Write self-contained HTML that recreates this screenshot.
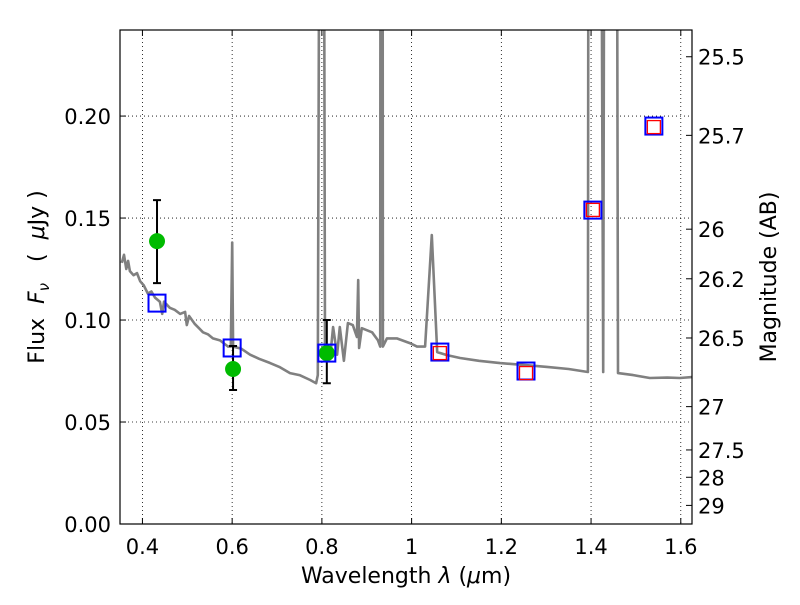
<!DOCTYPE html>
<html><head><meta charset="utf-8"><style>
body{margin:0;background:#fff}
svg text{font-family:"DejaVu Sans","Liberation Sans",sans-serif;fill:#000}
</style></head><body>
<svg id="chart" width="800" height="600" xmlns="http://www.w3.org/2000/svg">
<defs><clipPath id="pc"><rect x="120" y="30" width="572" height="494"/></clipPath></defs>
<rect width="800" height="600" fill="#fff"/>
<g id="grid"></g>
<g id="spec" clip-path="url(#pc)"></g>
<g id="marks"></g>
<rect x="120" y="30" width="572" height="494" fill="none" stroke="#000" stroke-width="1.2"/>
<g id="axes"></g>
<text x="406" y="583" font-size="22" text-anchor="middle">Wavelength  <tspan font-style="italic">λ</tspan> (<tspan font-style="italic">μ</tspan>m)</text>
<text transform="translate(44,277) rotate(-90)" font-size="22" text-anchor="middle" xml:space="preserve">Flux  <tspan font-style="italic">F</tspan><tspan font-style="italic" font-size="15" dy="5">ν</tspan><tspan dy="-5">   (  </tspan><tspan font-style="italic">μ</tspan>Jy )</text>
<text transform="translate(776,277) rotate(-90)" font-size="22" text-anchor="middle">Magnitude (AB)</text>
</svg>
<script>
const xTicks=[0.4,0.6,0.8,1.0,1.2,1.4,1.6];
const xTickLabels=["0.4","0.6","0.8","1","1.2","1.4","1.6"];
const yTicks=[0,0.05,0.10,0.15,0.20];
const yTickLabels=["0.00","0.05","0.10","0.15","0.20"];
const magTicks=[25.5,25.7,26,26.2,26.5,27,27.5,28,29];
const magLabels=["25.5","25.7","26","26.2","26.5","27","27.5","28","29"];
const specLam=[0.354,0.359,0.364,0.368,0.372,0.380,0.388,0.395,0.403,0.412,0.420,0.428,0.439,0.444,0.448,0.461,0.472,0.484,0.495,0.499,0.504,0.517,0.526,0.535,0.546,0.557,0.573,0.591,0.597,0.600,0.602,0.620,0.640,0.660,0.684,0.705,0.729,0.750,0.774,0.787,0.791,0.797,0.803,0.807,0.818,0.825,0.834,0.840,0.849,0.858,0.869,0.878,0.881,0.883,0.889,0.912,0.925,0.930,0.931,0.935,0.936,0.945,0.967,0.996,1.012,1.030,1.045,1.057,1.079,1.108,1.150,1.197,1.250,1.302,1.350,1.393,1.395,1.420,1.427,1.431,1.456,1.460,1.494,1.531,1.570,1.598,1.625];
const specFlux=[0.128,0.132,0.125,0.129,0.124,0.122,0.123,0.119,0.117,0.113,0.114,0.111,0.109,0.103,0.109,0.106,0.105,0.103,0.104,0.0975,0.102,0.098,0.096,0.094,0.093,0.091,0.090,0.087,0.087,0.138,0.087,0.086,0.083,0.081,0.079,0.077,0.074,0.073,0.0706,0.069,0.073,0.5,0.5,0.085,0.081,0.0966,0.083,0.0966,0.080,0.0985,0.0975,0.0917,0.1196,0.0863,0.096,0.094,0.090,0.087,0.5,0.5,0.087,0.091,0.091,0.0887,0.087,0.087,0.1417,0.0843,0.0828,0.0814,0.080,0.0789,0.078,0.077,0.076,0.0745,0.5,0.5,0.0745,0.5,0.5,0.074,0.073,0.0716,0.0718,0.0716,0.072];
const modelLam=[0.4325,0.600,0.811,1.063,1.255,1.404,1.540];
const modelFlux=[0.1083,0.0863,0.0838,0.0843,0.075,0.1539,0.1951];
const irLam=[1.063,1.255,1.404,1.540];
const irFlux=[0.0838,0.074,0.154,0.1946];
const obsLam=[0.4325,0.602,0.811];
const obsFlux=[0.1387,0.076,0.0838];
const obsHi=[0.1588,0.0873,0.100];
const obsLo=[0.1181,0.0657,0.069];

const X0=120,X1=692,Y0=524,Y1=30,LMIN=0.35,LMAX=1.625,FMAX=0.2422;
const sx=l=>X0+(l-LMIN)/(LMAX-LMIN)*(X1-X0);
const sy=f=>Y0-f/FMAX*(Y0-Y1);
const NS="http://www.w3.org/2000/svg";
function mk(tag,attrs,parent){const e=document.createElementNS(NS,tag);for(const k in attrs)e.setAttribute(k,attrs[k]);parent.appendChild(e);return e;}
const grid=document.getElementById('grid'),axes=document.getElementById('axes'),spec=document.getElementById('spec'),marks=document.getElementById('marks');
xTicks.forEach((t,i)=>{const x=sx(t);
 const g=mk('line',{x1:x,x2:x,y1:Y1,y2:Y0,stroke:'#000','stroke-width':0.8,'stroke-dasharray':'1,3'},grid);
 
 mk('line',{x1:x,x2:x,y1:Y0,y2:Y0-6,stroke:'#000'},axes);mk('line',{x1:x,x2:x,y1:Y1,y2:Y1+6,stroke:'#000'},axes);
 const tx=mk('text',{x:x,y:554,'font-size':21,'text-anchor':'middle'},axes);tx.textContent=xTickLabels[i];
 });
yTicks.forEach((t,i)=>{const y=sy(t);
 if(t>0){const g=mk('line',{x1:X0,x2:X1,y1:y,y2:y,stroke:'#000','stroke-width':0.8,'stroke-dasharray':'1,3'},grid);
 }
 mk('line',{x1:X0,x2:X0+6,y1:y,y2:y,stroke:'#000'},axes);
 const tx=mk('text',{x:111,y:y+8,'font-size':21,'text-anchor':'end'},axes);tx.textContent=yTickLabels[i];
 });
magTicks.forEach((m,i)=>{const y=sy(Math.pow(10,-0.4*(m-23.9)));
 mk('line',{x1:X1,x2:X1-6,y1:y,y2:y,stroke:'#000'},axes);
 const tx=mk('text',{x:698,y:y+8,'font-size':21},axes);tx.textContent=magLabels[i];
 });
const d=specLam.map((l,i)=>(i?'L':'M')+sx(l).toFixed(1)+','+sy(specFlux[i]).toFixed(1)).join('');
const sp=mk('path',{d:d,fill:'none',stroke:'#808080','stroke-width':2.6,'stroke-linejoin':'round'},spec);

obsLam.forEach((l,i)=>{const x=sx(l);
 const eb=mk('path',{d:`M${x},${sy(obsHi[i])}V${sy(obsLo[i])}M${x-4},${sy(obsHi[i])}h8M${x-4},${sy(obsLo[i])}h8`,stroke:'#000','stroke-width':2,fill:'none'},marks);
 
 const c=mk('circle',{cx:x,cy:sy(obsFlux[i]),r:8,fill:'#00bb00'},marks);
 });
modelLam.forEach((l,i)=>{const x=sx(l),y=sy(modelFlux[i]);
 const r=mk('rect',{x:x-8.5,y:y-8.5,width:17,height:17,fill:'none',stroke:'#0000ff','stroke-width':2},marks);
 });
irLam.forEach((l,i)=>{const x=sx(l),y=sy(irFlux[i]);
 const r=mk('rect',{x:x-6.5,y:y-6.5,width:13,height:13,fill:'none',stroke:'#ff0000','stroke-width':1.3},marks);
 });
</script>
</body></html>
